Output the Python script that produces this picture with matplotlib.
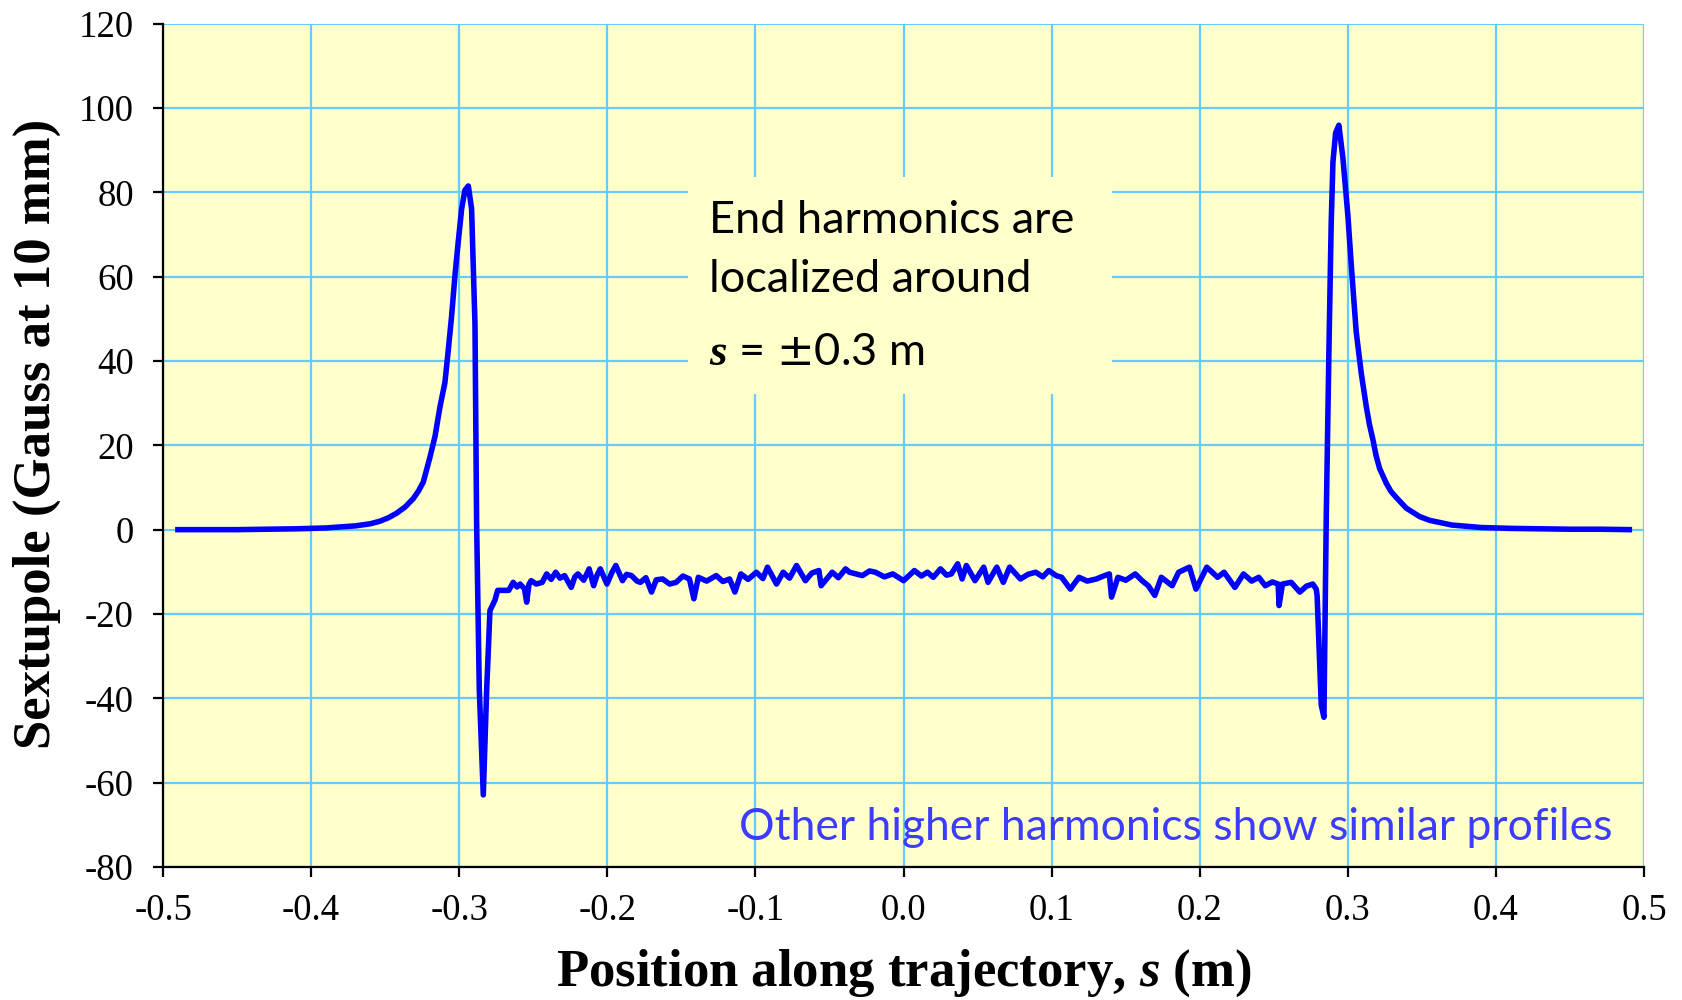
import numpy as np
import matplotlib
matplotlib.use("Agg")
import matplotlib.pyplot as plt
from matplotlib.patches import Rectangle

plt.rcParams['axes.unicode_minus'] = False
plt.rcParams['mathtext.fontset'] = 'custom'
plt.rcParams['mathtext.it'] = 'Liberation Serif:italic:bold'
plt.rcParams['mathtext.rm'] = 'DejaVu Sans'

# sextupole end-harmonic profile
# left tail, rising towards the magnet end
s_tail_left = [-0.49, -0.47, -0.45, -0.43, -0.41, -0.39, -0.37, -0.36, -0.3536,
               -0.3480, -0.3423, -0.3365, -0.331, -0.3275, -0.3243, -0.3198, -0.3164,
               -0.3131, -0.3097, -0.3074, -0.3052, -0.3029, -0.3007, -0.2984,
               -0.2962, -0.2939, -0.2917, -0.2894, -0.2883, -0.2865, -0.2838,
               -0.2815, -0.2793, -0.2759, -0.2741]
b3_tail_left = [0.0, 0.0, 0.0, 0.1, 0.2, 0.4, 0.9, 1.4, 2.0,
                2.8, 3.9, 5.4, 7.4, 9.2, 11.3, 17.2, 22.1,
                29.0, 34.9, 42.7, 50.6, 60.4, 68.3, 76.1,
                80.5, 81.5, 76.1, 48.6, 1.5, -37.8, -62.9,
                -37.8, -19.2, -16.7, -14.4]

# body of the magnet, noisy plateau around -11 G
s_body = [-0.2666, -0.2636, -0.2610, -0.2590, -0.2560, -0.2545, -0.2530, -0.2515,
          -0.2480, -0.2440, -0.2410, -0.2380, -0.2349, -0.2320, -0.2289, -0.2244,
          -0.2220, -0.2199, -0.2160, -0.2123, -0.2093, -0.2070, -0.2048, -0.2003,
          -0.1970, -0.1943, -0.1898, -0.1870, -0.1837, -0.1800, -0.1777, -0.1740,
          -0.1702, -0.1670, -0.1627, -0.1580, -0.1536, -0.1490, -0.1446, -0.1416,
          -0.1386, -0.1330, -0.1265, -0.1220, -0.1175, -0.1139, -0.1099, -0.1050,
          -0.0994, -0.0950, -0.0919, -0.0858, -0.0813, -0.0770, -0.0723, -0.0663,
          -0.0620, -0.0572, -0.0557, -0.0482, -0.0440, -0.0392, -0.0365, -0.0278,
          -0.0230, -0.0190, -0.0130, -0.0073, 0.0000, 0.0073, 0.0120, 0.0161,
          0.0200, 0.0249, 0.0290, 0.0322, 0.0365, 0.0395, 0.0424, 0.0482,
          0.0541, 0.0570, 0.0629, 0.0673, 0.0716, 0.0789, 0.0840, 0.0892,
          0.0940, 0.0980, 0.1030, 0.1067, 0.1126, 0.1184, 0.1240, 0.1301,
          0.1350, 0.1389, 0.1404, 0.1447, 0.1500, 0.1564, 0.1610, 0.1652,
          0.1696, 0.1740, 0.1813, 0.1857, 0.1930, 0.1974, 0.2047, 0.2120,
          0.2164, 0.2237, 0.2295, 0.2350, 0.2398, 0.2442, 0.2490, 0.2529,
          0.2535, 0.2558, 0.2617, 0.2675, 0.2720, 0.2763]
b3_body = [-14.4, -12.5, -13.6, -12.9, -14.0, -17.2, -13.0, -12.1,
           -12.9, -12.5, -10.5, -11.8, -10.1, -11.5, -10.9, -13.7,
           -11.2, -10.5, -12.0, -9.3, -13.3, -10.8, -9.3, -12.9,
           -10.2, -8.5, -12.1, -10.6, -10.9, -12.2, -12.5, -11.4,
           -14.8, -11.9, -11.7, -12.9, -12.5, -11.0, -11.7, -16.4,
           -11.3, -12.2, -10.9, -12.3, -11.7, -14.8, -10.5, -11.8,
           -10.1, -11.6, -8.9, -12.9, -10.1, -11.5, -8.5, -12.1,
           -10.3, -9.7, -13.3, -10.1, -11.4, -9.3, -10.1, -10.9,
           -9.8, -10.1, -11.2, -10.5, -12.1, -9.7, -11.0, -10.1,
           -11.3, -9.3, -10.8, -10.5, -8.1, -11.7, -8.5, -12.1,
           -8.9, -12.5, -8.9, -12.5, -8.9, -11.7, -10.6, -10.1,
           -11.2, -9.7, -10.9, -11.3, -14.1, -11.3, -12.2, -11.7,
           -11.0, -10.5, -16.0, -11.3, -12.0, -10.5, -12.1, -13.3,
           -15.6, -11.3, -13.3, -10.1, -8.9, -14.1, -8.9, -11.3,
           -10.1, -13.7, -10.5, -12.2, -11.3, -13.3, -12.4, -12.9,
           -18.0, -12.9, -12.5, -14.8, -13.4, -12.9]

# right end: negative dip then the large positive peak, then decay
s_tail_right = [0.2786, 0.2792, 0.2820, 0.2838, 0.2854, 0.2872, 0.2887, 0.2899,
                0.2917, 0.2939, 0.2966, 0.3000, 0.3023, 0.3056, 0.3090, 0.3124,
                0.3145, 0.3169, 0.3190, 0.3214, 0.3259, 0.3290, 0.3327, 0.3394,
                0.3484, 0.3552, 0.37, 0.39, 0.41, 0.43, 0.45, 0.47, 0.49]
b3_tail_right = [-14.1, -15.6, -41.6, -44.5, 3.6, 43.0, 72.5, 87.2,
                 94.1, 95.9, 88.2, 74.4, 62.6, 46.9, 37.1, 29.2,
                 25.0, 21.3, 17.6, 14.5, 11.0, 9.1, 7.6, 5.1,
                 3.1, 2.2, 1.1, 0.5, 0.3, 0.2, 0.1, 0.1, 0.0]

x_ticks = [-0.5, -0.4, -0.3, -0.2, -0.1, 0.0, 0.1, 0.2, 0.3, 0.4, 0.5]
x_ticklabels = ['-0.5', '-0.4', '-0.3', '-0.2', '-0.1', '0.0', '0.1', '0.2', '0.3', '0.4', '0.5']
y_ticks = [-80, -60, -40, -20, 0, 20, 40, 60, 80, 100, 120]

s = np.array(s_tail_left + s_body + s_tail_right)
b3 = np.array(b3_tail_left + b3_body + b3_tail_right)

fig = plt.figure(figsize=(16.83, 10), dpi=100)
ax = fig.add_axes([0.0969, 0.133, 0.88, 0.8434])
ax.set_facecolor('#FFFFCC')

ax.plot(s, b3, color='#0000FF', lw=4.0, zorder=3, solid_joinstyle='round')

ax.set_xlim(-0.5, 0.5)
ax.set_ylim(-80, 120)
ax.set_xticks(x_ticks)
ax.set_xticklabels(x_ticklabels)
ax.set_yticks(y_ticks)
ax.grid(True, color='#66CCFF', lw=1.6)
ax.set_axisbelow(True)
for side in ['top', 'right']:
    ax.spines[side].set_visible(False)
for side in ['left', 'bottom']:
    ax.spines[side].set_linewidth(1.6)
ax.tick_params(direction='out', length=7, width=1.6, labelsize=26.5)
ax.tick_params(axis='y', pad=14)
ax.tick_params(axis='x', pad=12)
for lab in ax.get_xticklabels() + ax.get_yticklabels():
    lab.set_family('Liberation Serif')

ax.set_xlabel('Position along trajectory, $s$ (m)', family='Liberation Serif',
              weight='bold', fontsize=38, va='center')
ax.xaxis.set_label_coords(0.5, -0.1257)
ax.set_ylabel('Sextupole (Gauss at 10 mm)', family='Liberation Serif',
              weight='bold', fontsize=38, va='center')
ax.yaxis.set_label_coords(-0.0851, 0.514)

# note box hiding the grid behind the text
ax.add_patch(Rectangle((0.3543, 0.5607), 0.2863, 0.2577, transform=ax.transAxes,
                       facecolor='#FFFFCC', edgecolor='none', zorder=1))
ax.text(0.3683, 0.7515, 'End harmonics are', transform=ax.transAxes,
        family='Lato', fontsize=32.5, va='baseline', zorder=4)
ax.text(0.3683, 0.6821, 'localized around', transform=ax.transAxes,
        family='Lato', fontsize=32.5, va='baseline', zorder=4)
ax.text(0.3683, 0.595, r'$s$ = $\pm$0.3 m', transform=ax.transAxes,
        family='Lato', fontsize=32.5, va='baseline', zorder=4)

ax.text(0.9784, 0.0315, 'Other higher harmonics show similar profiles',
        transform=ax.transAxes, family='Lato', fontsize=32, color='#3C3CFF',
        ha='right', va='baseline', zorder=4)

fig.savefig('out.png', dpi=100, facecolor='white')
